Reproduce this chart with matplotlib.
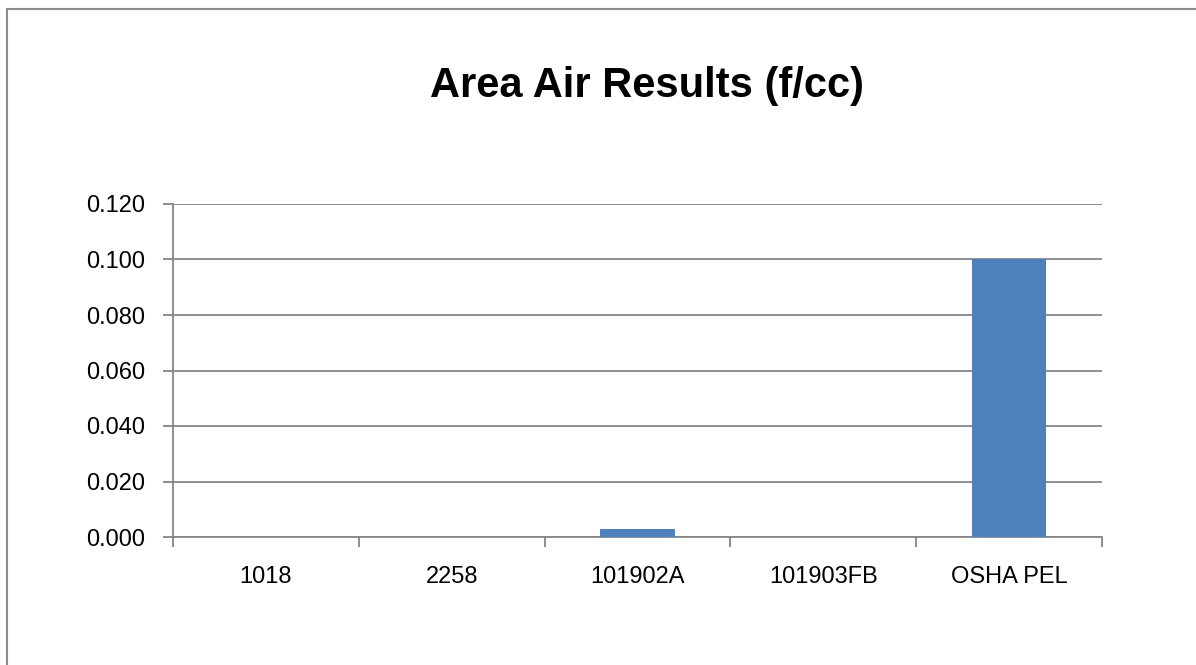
import matplotlib.pyplot as plt
from matplotlib.lines import Line2D

plt.rcParams['font.family'] = ['Liberation Sans', 'DejaVu Sans']

# Data
samples = ["1018", "2258", "101902A", "101903FB", "OSHA PEL"]
results = [0.0, 0.0, 0.003, 0.0, 0.100]
yticks = [0.0, 0.02, 0.04, 0.06, 0.08, 0.10, 0.12]

grey = "#868686"

fig = plt.figure(figsize=(11.96, 6.65), dpi=100)
ax = fig.add_axes([173 / 1196, 1 - 537 / 665, (1102 - 173) / 1196, (537 - 204) / 665])

x = range(len(samples))
ax.bar(x, results, width=0.4, color="#4f81bd", zorder=3)

ax.set_xlim(-0.5, len(samples) - 0.5)
ax.set_ylim(0, 0.12)
ax.set_yticks(yticks)
ax.set_yticklabels(["%.3f" % v for v in yticks], fontsize=17)
ax.yaxis.grid(True, color=grey, linewidth=1.3, zorder=0)
ax.set_axisbelow(True)

# category labels in the middle, tick marks on the boundaries
ax.set_xticks(list(x))
ax.set_xticklabels(samples, fontsize=17)
ax.tick_params(axis="x", length=0, pad=21)
ax.set_xticks([i - 0.5 for i in range(len(samples) + 1)], minor=True)
ax.tick_params(axis="x", which="minor", length=7, color=grey, width=1.3, direction="out")
ax.tick_params(axis="y", length=7, color=grey, width=1.3, pad=13)

for s in ["top", "right"]:
    ax.spines[s].set_visible(False)
for s in ["left", "bottom"]:
    ax.spines[s].set_color(grey)
    ax.spines[s].set_linewidth(1.3)

fig.text(647 / 1196, 1 - 86 / 665, "Area Air Results (f/cc)", ha="center", va="center",
         fontsize=30, fontweight="bold")

# chart border (only left and top visible in the crop)
fig.add_artist(Line2D([7 / 1196, 7 / 1196], [0, 1 - 9 / 665], transform=fig.transFigure,
                      color="#8c8c8c", linewidth=1.5))
fig.add_artist(Line2D([7 / 1196, 1], [1 - 9 / 665, 1 - 9 / 665], transform=fig.transFigure,
                      color="#8c8c8c", linewidth=1.5))

fig.savefig("out.png", dpi=100)
